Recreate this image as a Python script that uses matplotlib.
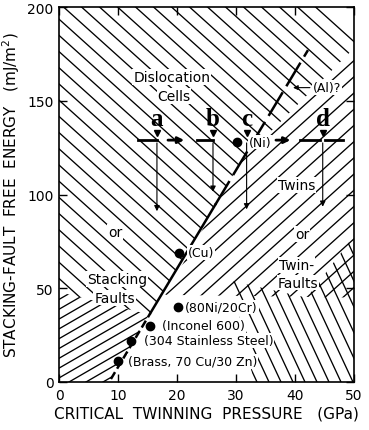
import numpy as np
import matplotlib.pyplot as plt
from matplotlib.patches import Polygon

# measured points
alloys = ['(Brass, 70 Cu/30 Zn)', '(304 Stainless Steel)', '(Inconel 600)',
          '(80Ni/20Cr)', '(Cu)', '(Ni)']
pressure = [10.0, 12.2, 15.4, 20.2, 20.3, 30.2]   # GPa
sfe = [11, 22, 30, 40, 69, 128]                    # mJ/m^2

# dashed boundary between regions
bound_p = [8.8, 15.5, 26.5, 42.2]
bound_e = [1.6, 36.8, 94.6, 177]

# hatched regions (GPa, mJ/m^2)
region_cells = [(0, 48), (15.3, 36), (31, 118.2), (50, 178), (50, 186), (46, 200), (0, 200)]
region_twins = [(18, 46.5), (31, 118.2), (50, 178), (50, 45)]
region_twinfaults = [(29, 54), (42, 45), (50, 78), (50, 0), (33, 0), (31, 30)]
region_faults = [(0, 0), (0, 48), (15.3, 36), (8.5, 0)]

# pressure path a-d
path_letters = ['a', 'b', 'c', 'd']
path_x = [16.6, 26.1, 31.8, 44.7]
path_tip = [89.6, 100, 90.6, 92]
path_y = 129

fig = plt.figure(figsize=(3.69, 4.31), dpi=100)
ax = fig.add_axes([59/369, 48/431, 295/369, 375/431])
ax.set_xlim(0, 50)
ax.set_ylim(0, 200)

kx = 295 / 50.0
ky = 375 / 200.0


def hatch(poly, angle, step, phase=0.0):
    patch = Polygon(poly, closed=True, fill=False, edgecolor='none')
    ax.add_patch(patch)
    t = np.tan(np.radians(angle))
    for x0 in np.arange(-500 + phase, 800, step):
        xs = np.array([x0, x0 + 375 / t]) / kx
        ys = np.array([0, 375]) / ky
        ln, = ax.plot(xs, ys, color='k', lw=0.95, zorder=1)
        ln.set_clip_path(patch)


hatch(region_cells, -42, 18, 3)
hatch(region_twins, 42, 18, 6)
hatch(region_twinfaults, -65, 12, 2)
hatch(region_faults, 30, 17, 0)

# boundary line
ax.plot(bound_p[0:2], bound_e[0:2], color='k', lw=1.8, ls=(0, (3.2, 1.6)), zorder=3)
ax.plot(bound_p[1:3], bound_e[1:3], color='k', lw=1.8, zorder=3)
ax.plot(bound_p[2:4], bound_e[2:4], color='k', lw=1.8, ls=(0, (11, 2.8)), zorder=3)

ax.plot(pressure, sfe, 'o', color='k', ms=6, zorder=5)

bb = dict(fc='white', ec='none', pad=0.6)
lab_dx = [1.7, 2.2, 2.1, 1.2, 1.6, 1.9]
for name, p, e, dx in zip(alloys, pressure, sfe, lab_dx):
    ax.text(p + dx, e, name, fontsize=9, ha='left', va='center', bbox=bb, zorder=4)

# region labels
fs = 10
ax.text(19.1, 162.6, 'Dislocation', fontsize=fs, ha='center', va='center', bbox=bb, zorder=4)
ax.text(19.5, 152.5, 'Cells', fontsize=fs, ha='center', va='center', bbox=bb, zorder=4)
ax.text(9.5, 80, 'or', fontsize=fs, ha='center', va='center', bbox=bb, zorder=4)
ax.text(9.8, 55, 'Stacking', fontsize=fs, ha='center', va='center', bbox=bb, zorder=4)
ax.text(9.4, 45, 'Faults', fontsize=fs, ha='center', va='center', bbox=bb, zorder=4)
ax.text(40.3, 105, 'Twins', fontsize=fs, ha='center', va='center', bbox=bb, zorder=4)
ax.text(41.2, 79, 'or', fontsize=fs, ha='center', va='center', bbox=bb, zorder=4)
ax.text(40.3, 62.5, 'Twin-', fontsize=fs, ha='center', va='center', bbox=bb, zorder=4)
ax.text(40.5, 53, 'Faults', fontsize=fs, ha='center', va='center', bbox=bb, zorder=4)
ax.text(43, 157, '(Al)?', fontsize=9, ha='left', va='center', bbox=bb, zorder=4)
ax.annotate('', xy=(39.2, 157), xytext=(43, 157),
            arrowprops=dict(arrowstyle='-|>', color='k', lw=0.8, mutation_scale=7), zorder=4)

# path with letters
for seg in [(13.4, 16.6), (23.4, 26.1), (40.8, 44.2), (45, 48.1)]:
    ax.plot(seg, [path_y, path_y], color='k', lw=2, zorder=5)
for seg in [(18, 21.7), (36.3, 39.7)]:
    ax.annotate('', xy=(seg[1], path_y), xytext=(seg[0], path_y),
                arrowprops=dict(arrowstyle='-|>', color='k', lw=2, mutation_scale=9), zorder=5)
for s, x, tip in zip(path_letters, path_x, path_tip):
    ax.text(x, 137, s, fontsize=18, family='Liberation Serif', weight='bold',
            ha='center', va='baseline', zorder=6)
    ax.plot([x], [133], marker='v', color='k', ms=4, zorder=6)
    ax.annotate('', xy=(x, tip), xytext=(x, path_y),
                arrowprops=dict(arrowstyle='-|>', color='k', lw=0.8, mutation_scale=8), zorder=5)

ax.set_xticks([0, 10, 20, 30, 40, 50])
ax.set_yticks([0, 50, 100, 150, 200])
ax.tick_params(direction='in', length=6, width=1, top=True, right=True, labelsize=10, pad=4)
for sp in ax.spines.values():
    sp.set_linewidth(1.2)

ax.set_xlabel('CRITICAL  TWINNING  PRESSURE   (GPa)', fontsize=11, labelpad=3)
ax.set_ylabel('STACKING-FAULT  FREE  ENERGY   (mJ/m$^2$)', fontsize=11, labelpad=4)

fig.savefig('out.png', dpi=100)
